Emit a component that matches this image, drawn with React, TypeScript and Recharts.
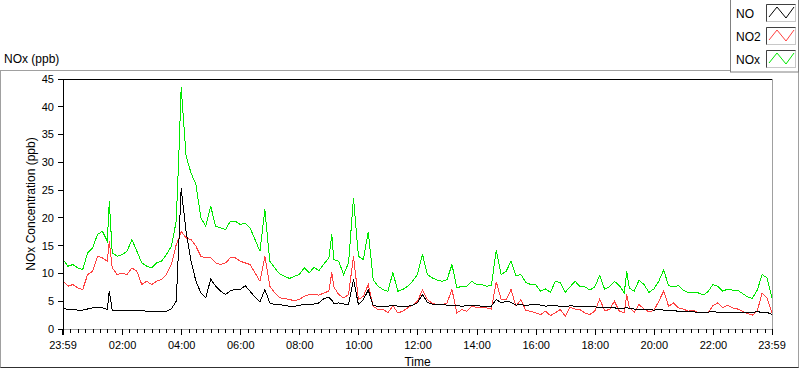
import React from "react";
import { LineChart, Line, XAxis, YAxis, ReferenceLine } from "recharts";

// minutes after 23:59 of the previous day
const TIME_MIN = [
  0, 10, 20, 30, 40, 50, 60, 70, 80, 90, 94,
  100, 110, 120, 130, 140, 150, 160, 170, 180, 190, 200, 210, 220, 230, 236,
  240, 250, 260, 270, 280, 290, 300, 310, 320, 330, 340, 350, 360, 370, 380, 390,
  400, 410, 420, 430, 440, 450, 460, 470, 480, 490, 500, 510, 520, 530, 540, 546,
  550, 560, 570, 580, 590, 600, 610, 620, 630, 640, 650, 660, 670, 680, 690, 700,
  710, 720, 730, 740, 750, 760, 770, 780, 790, 800, 810, 820, 830, 840, 850, 860,
  870, 880, 890, 900, 910, 920, 930, 940, 950, 960, 970, 980, 990, 1000, 1010,
  1020, 1030, 1040, 1050, 1060, 1070, 1080, 1090, 1100, 1110, 1120, 1130, 1140, 1145,
  1150, 1160, 1170, 1180, 1190, 1200, 1210, 1220, 1230, 1240, 1250, 1260, 1270,
  1280, 1290, 1300, 1310, 1320, 1330, 1340, 1350, 1360, 1370, 1380, 1390, 1400,
  1410, 1420, 1430, 1440,
];

const NOX = [
  12.5, 11.3, 11.6, 11.0, 10.7, 13.7, 14.6, 17.0, 17.6, 15.8, 23.0,
  13.7, 13.1, 13.4, 14.0, 16.1, 14.0, 11.9, 11.3, 11.0, 11.9, 12.2, 13.4, 14.9, 19.4, 33.0,
  43.5, 31.1, 28.1, 26.0, 20.0, 18.5, 22.1, 18.5, 18.2, 17.9,
  19.4, 19.4, 18.8, 19.1, 18.2, 16.1, 14.0, 21.5, 12.2, 11.0,
  9.9, 9.5, 9.1, 9.5, 9.8, 11.0, 10.1, 11.1, 10.5, 11.7,
  12.8, 17.0,
  12.5, 12.2, 9.8, 11.9, 23.6, 13.1, 12.5, 17.5, 8.9, 7.7,
  7.1, 6.8, 10.2, 6.8, 7.1, 7.7, 8.6, 9.8, 13.5, 9.8,
  9.2, 8.8, 8.6, 8.9, 11.6, 7.4, 7.7, 7.7, 8.6, 8.0,
  8.0, 7.7, 7.8, 14.2, 9.8, 10.4, 12.2, 9.6, 9.8, 8.4,
  8.0, 8.0, 6.8, 7.2, 6.6, 8.6, 8.3, 6.6, 7.6, 8.6,
  7.6, 7.6, 7.0, 7.6, 9.6, 7.2, 7.6, 8.6, 7.8, 6.5,
  10.4,
  7.4, 6.8, 8.8, 8.0, 6.6, 7.2, 8.6, 10.6, 7.8, 7.6,
  7.8, 7.0, 6.5, 6.5, 6.5, 6.1, 6.7, 8.0, 7.7, 6.8,
  7.2, 7.0, 7.0, 6.4, 5.8, 5.5, 7.0, 9.8, 9.2, 5.6,
];

const NO2 = [
  8.6, 7.7, 8.0, 7.4, 7.1, 9.8, 10.4, 13.1, 12.8, 12.2, 15.8,
  11.0, 9.8, 10.1, 9.8, 11.0, 10.4, 8.0, 8.6, 8.0, 8.6, 8.9, 9.8, 11.6, 15.2, 16.5,
  17.6, 16.4, 16.1, 14.9, 13.1, 12.8, 12.8, 11.9, 11.6, 11.9,
  12.8, 12.8, 12.2, 11.9, 11.6, 10.1, 8.6, 13.1, 7.7, 6.5,
  5.6, 5.5, 5.3, 5.1, 5.3, 5.9, 6.2, 6.2, 6.1, 6.5,
  6.8, 10.2,
  7.6, 6.2, 5.6, 6.2, 13.1, 5.3, 5.9, 8.0, 4.1, 3.5,
  3.6, 2.9, 4.2, 2.9, 3.2, 3.8, 4.3, 5.0, 7.0, 5.3,
  4.6, 4.4, 4.4, 4.7, 7.1, 2.9, 3.5, 3.2, 4.1, 3.9,
  3.8, 3.8, 3.6, 8.5, 5.3, 5.3, 7.1, 4.1, 5.3, 3.3,
  3.2, 2.9, 2.6, 3.2, 2.4, 2.9, 3.5, 2.3, 3.9, 3.6,
  3.5, 2.9, 2.6, 3.2, 5.4, 3.3, 3.5, 5.0, 3.2, 2.9,
  6.2,
  3.9, 3.0, 4.4, 3.6, 3.1, 3.3, 5.0, 6.8, 4.1, 4.7,
  3.8, 3.6, 3.2, 3.4, 2.9, 2.9, 2.9, 4.2, 4.7, 3.8,
  4.3, 3.8, 3.6, 3.2, 2.8, 2.5, 3.2, 6.5, 5.6, 2.9,
];

const NO = [
  3.8, 3.5, 3.5, 3.4, 3.4, 3.6, 3.8, 3.9, 3.8, 3.5, 6.9,
  3.4, 3.3, 3.3, 3.4, 3.3, 3.4, 3.3, 3.2, 3.1, 3.2, 3.1, 3.2, 3.6, 5.0, 17.0,
  25.3, 17.6, 12.2, 8.6, 6.5, 5.6, 9.0, 7.7, 6.8, 6.2,
  6.9, 7.1, 7.1, 7.8, 6.8, 5.7, 4.9, 7.1, 4.7, 4.4,
  4.4, 4.2, 4.1, 4.1, 4.2, 4.5, 4.4, 4.5, 4.7, 5.5,
  5.7, 5.2,
  4.6, 4.7, 4.5, 4.4, 8.9, 4.4, 5.3, 7.0, 4.2, 4.1,
  4.0, 4.1, 4.3, 4.1, 4.1, 4.1, 4.3, 4.7, 6.2, 4.8,
  4.5, 4.4, 4.4, 4.3, 4.2, 4.2, 4.1, 4.2, 4.2, 4.2,
  4.1, 4.1, 4.1, 5.3, 4.7, 5.0, 4.8, 4.3, 4.4, 4.2,
  4.4, 4.5, 4.3, 4.1, 4.2, 4.2, 4.1, 4.0, 4.2, 4.1,
  4.1, 4.0, 4.0, 4.0, 3.8, 3.8, 3.8, 3.8, 3.7, 3.7,
  3.9,
  3.7, 3.6, 3.5, 3.5, 3.5, 3.4, 3.5, 3.4, 3.3, 3.3,
  3.2, 3.1, 3.1, 3.1, 3.0, 3.0, 3.0, 3.2, 3.0, 3.0,
  3.0, 2.9, 2.9, 2.9, 2.9, 2.9, 3.2, 2.9, 3.0, 2.6,
];

const MAJOR_TICKS = [0, 121, 241, 361, 481, 601, 721, 841, 961, 1081, 1201, 1321, 1440];
const MAJOR_LABELS = [
  "23:59", "02:00", "04:00", "06:00", "08:00", "10:00", "12:00",
  "14:00", "16:00", "18:00", "20:00", "22:00", "23:59",
];
const Y_TICKS = [0, 5, 10, 15, 20, 25, 30, 35, 40, 45];

const SERIES = [
  { key: "no", name: "NO", color: "#000000" },
  { key: "no2", name: "NO2", color: "#ff4040" },
  { key: "nox", name: "NOx", color: "#00e800" },
];

const FONT = '"Liberation Sans", Arial, sans-serif';

const data = TIME_MIN.map((t, i) => ({ t, no: NO[i], no2: NO2[i], nox: NOX[i] }));

// minor ticks every 15 minutes, on the quarter hours
const minorTicks: number[] = [];
for (let m = 16; m < 1440; m += 15) {
  if (!MAJOR_TICKS.includes(m)) minorTicks.push(m);
}
const allTicks = [...MAJOR_TICKS, ...minorTicks].sort((a, b) => a - b);

function TimeTick(props: any) {
  const { x, y, payload } = props;
  const i = MAJOR_TICKS.indexOf(payload.value);
  if (i < 0) {
    return <line x1={x} x2={x} y1={y} y2={y + 4} stroke="#000" />;
  }
  return (
    <g>
      <line x1={x} x2={x} y1={y} y2={y + 6} stroke="#000" strokeWidth={i === 0 ? 2 : 1} />
      <text x={x} y={y + 20} textAnchor="middle" fontSize={11} fontFamily={FONT} fill="#000">
        {MAJOR_LABELS[i]}
      </text>
    </g>
  );
}

function YTitle(props: any) {
  const vb = props.viewBox;
  const cx = vb.x + 35;
  const cy = vb.y + vb.height / 2;
  return (
    <text
      x={cx}
      y={cy}
      transform={`rotate(-90 ${cx} ${cy})`}
      textAnchor="middle"
      fontSize={12}
      fontFamily={FONT}
      fill="#000"
    >
      NOx Concentration (ppb)
    </text>
  );
}

function XTitle(props: any) {
  const vb = props.viewBox;
  return (
    <text
      x={vb.x + vb.width / 2}
      y={vb.y + 37}
      textAnchor="middle"
      fontSize={12}
      fontFamily={FONT}
      fill="#000"
    >
      Time
    </text>
  );
}

function LegendBox() {
  return (
    <svg width={800} height={74} style={{ position: "absolute", left: 0, top: 0 }}>
      <text x={4} y={63} fontSize={12} fontFamily={FONT} fill="#000">
        NOx (ppb)
      </text>
      <rect x={730.5} y={-1} width={68} height={73} fill="#fff" stroke="#808080" />
      {SERIES.map((s, i) => {
        const top = 4 + i * 23;
        return (
          <g key={s.key}>
            <text x={736} y={top + 13.5} fontSize={12} fontFamily={FONT} fill="#000">
              {s.name}
            </text>
            <rect x={766.5} y={top + 0.5} width={29} height={17} fill="#fff" stroke="#c8c8c8" />
            <polyline
              points={`766.5,${top + 17.5} 766.5,${top + 0.5} 795.5,${top + 0.5}`}
              fill="none"
              stroke="#404040"
            />
            <polyline
              points={`${769},${top + 13} ${777},${top + 3} ${786},${top + 14} ${794},${top + 3}`}
              fill="none"
              stroke={s.color}
            />
          </g>
        );
      })}
    </svg>
  );
}

export default function App() {
  return (
    <div
      className="nox-wrap"
      style={{ position: "relative", width: 800, height: 369, background: "#fff", overflow: "hidden" }}
    >
      <style>{`
        body { margin: 0; }
        .nox-wrap .recharts-surface path,
        .nox-wrap .recharts-surface line { shape-rendering: crispEdges; }
      `}</style>
      <div
        style={{
          position: "absolute",
          left: 0,
          top: 70,
          width: 799,
          height: 298,
          boxSizing: "border-box",
          borderTop: "1px solid #a0a0a0",
          borderLeft: "1px solid #a0a0a0",
          borderRight: "1px solid #a0a0a0",
          borderBottom: "1px solid #303030",
        }}
      />
      <div style={{ position: "absolute", left: 0, top: 0 }}>
        <LineChart width={800} height={369} data={data} margin={{ top: 79, right: 28, bottom: 0, left: 0 }}>
          <XAxis
            dataKey="t"
            type="number"
            domain={[0, 1440]}
            ticks={allTicks}
            interval={0}
            tick={<TimeTick />}
            tickLine={false}
            tickSize={0}
            tickMargin={0}
            height={40}
            axisLine={{ stroke: "#a0a0a0" }}
            label={<XTitle />}
          />
          <YAxis
            type="number"
            domain={[0, 45]}
            ticks={Y_TICKS}
            interval={0}
            width={63}
            tickSize={5}
            tickMargin={4}
            tickLine={{ stroke: "#000" }}
            axisLine={{ stroke: "#000" }}
            tick={{ fontSize: 11, fontFamily: FONT, fill: "#000" }}
            label={<YTitle />}
          />
          <ReferenceLine y={45} stroke="#000" />
          <ReferenceLine x={1440} stroke="#a0a0a0" />
          {[...SERIES].reverse().map((s) => (
            <Line
              key={s.key}
              dataKey={s.key}
              name={s.name}
              type="linear"
              stroke={s.color}
              strokeWidth={1}
              dot={false}
              isAnimationActive={false}
            />
          ))}
        </LineChart>
      </div>
      <LegendBox />
    </div>
  );
}
